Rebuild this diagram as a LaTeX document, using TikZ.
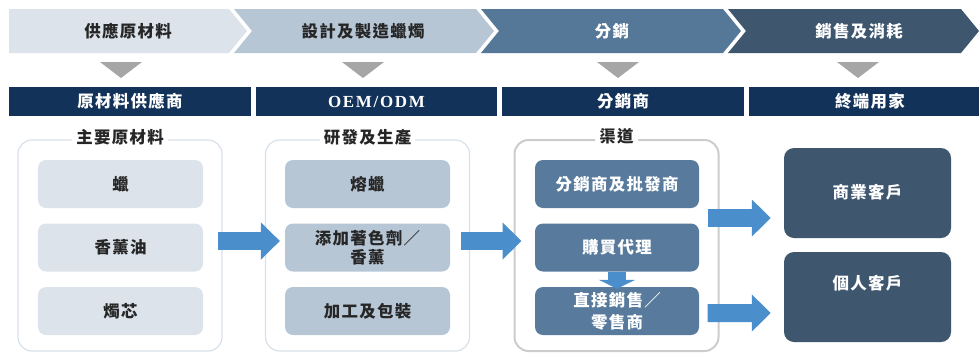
\documentclass[tikz,border=0pt]{standalone}
\usepackage{fontspec}
\usetikzlibrary{arrows.meta,calc}
\newfontfamily\cjk{Noto Sans CJK TC}[LetterSpace=8]
\newfontfamily\latserif{Liberation Serif}[LetterSpace=10]
\definecolor{chA}{HTML}{DCE3EB}
\definecolor{chB}{HTML}{B7C6D5}
\definecolor{chC}{HTML}{557899}
\definecolor{chD}{HTML}{3F566F}
\definecolor{navy}{HTML}{133259}
\definecolor{trigray}{HTML}{A6A6A6}
\definecolor{arrblue}{HTML}{4A8ECC}
\definecolor{outA}{HTML}{D8E0E9}
\definecolor{outC}{HTML}{CCCCCC}
\definecolor{boxC}{HTML}{587B9D}
\definecolor{darktext}{HTML}{262626}
\tikzset{
  lbl/.style={font=\cjk\bfseries\fontsize{16.5}{19}\selectfont, align=center, inner sep=0pt},
  dtext/.style={lbl, text=darktext},
  wtext/.style={lbl, text=white},
  navybar/.style={wtext, fill=navy, minimum width=242bp, minimum height=29bp},
  groupbox/.style={draw=outA, line width=1.2bp, rounded corners=14bp, minimum width=204bp, minimum height=211bp, inner sep=0pt},
  grouptitle/.style={dtext, fill=white, inner xsep=4bp, inner ysep=2bp},
  ibox/.style={rounded corners=8bp, minimum width=165bp, minimum height=48bp},
  ibA/.style={ibox, dtext, fill=chA},
  ibB/.style={ibox, dtext, fill=chB},
  ibC/.style={ibox, wtext, fill=boxC},
  rbox/.style={rounded corners=10bp, fill=chD, minimum width=167bp, minimum height=90bp, inner sep=0pt},
  bigarrow/.style={draw=arrblue, line width=18bp, -{Triangle[length=19bp,width=36bp]}},
  smallarrow/.style={draw=arrblue, line width=18bp, -{Triangle[length=9bp,width=36bp]}},
}
\begin{document}
\begin{tikzpicture}[x=1bp,y=-1bp]
\useasboundingbox (0,0) rectangle (979,352);
% chevrons
\fill[chA] (9,9) -- (229,9) -- (247,31) -- (229,53) -- (9,53) -- cycle;
\fill[chB] (234,9) -- (476,9) -- (494,31) -- (476,53) -- (234,53) -- (252,31) -- cycle;
\fill[chC] (481,9) -- (723,9) -- (741,31) -- (723,53) -- (481,53) -- (499,31) -- cycle;
\fill[chD] (728,9) -- (961,9) -- (979,31) -- (961,53) -- (728,53) -- (746,31) -- cycle;
\node[dtext] (s1) at (128,31) {供應原材料};
\node[dtext] (s2) at (363,31) {設計及製造蠟燭};
\node[wtext] (s3) at (612,31) {分銷};
\node[wtext] (s4) at (859,31) {銷售及消耗};
% gray triangles
\fill[trigray] (100,62) -- (142,62) -- (121,78) -- cycle;
\fill[trigray] (342,62) -- (384,62) -- (363,78) -- cycle;
\fill[trigray] (597,62) -- (639,62) -- (618,78) -- cycle;
\fill[trigray] (837,62) -- (879,62) -- (858,78) -- cycle;
% navy bars
\node[navybar] (b1) at (130,101.5) {原材料供應商};
\node[navybar, font=\latserif\bfseries\fontsize{17}{19}\selectfont, minimum width=241bp] (b2) at (376.5,101.5) {OEM/ODM};
\node[navybar] (b3) at (623,101.5) {分銷商};
\node[navybar] (b4) at (870,101.5) {終端用家};
% groups
\node[groupbox] (g1) at (120,245.5) {};
\node[groupbox] (g2) at (367.5,245.5) {};
\node[groupbox, draw=outC, line width=2bp] (g3) at (616.5,245.5) {};
\node[grouptitle] (t1) at (120,137) {主要原材料};
\node[grouptitle] (t2) at (367.5,137) {研發及生產};
\node[grouptitle] (t3) at (616.5,136) {渠道};
% inner boxes
\node[ibA] (a1) at (120.5,184) {蠟};
\node[ibA] (a2) at (120.5,247.5) {香薰油};
\node[ibA] (a3) at (120.5,311) {燭芯};
\node[ibB] (p1) at (367.5,184) {熔蠟};
\node[ibB] (p2) at (367.5,247.5) {添加著色劑／\\香薰};
\node[ibB] (p3) at (367.5,311) {加工及包裝};
\node[ibC, minimum width=164bp] (h1) at (617,184) {分銷商及批發商};
\node[ibC, minimum width=164bp] (h2) at (617,247.5) {購買代理};
\node[ibC, minimum width=164bp, font=\cjk\bfseries\fontsize{16.5}{22}\selectfont] (h3) at (617,311) {直接銷售／\\零售商};
% right boxes
\node[rbox] (c1) at (867.5,193) {};
\node[wtext] (c1t) at (867.5,192) {商業客戶};
\node[rbox] (c2) at (867.5,297) {};
\node[wtext] (c2t) at (867.5,283) {個人客戶};
% arrows
\draw[bigarrow] ($(g1.east)+(-5,-4.5)$) -- ($(g2.west)+(15,-4.5)$);
\draw[bigarrow] ($(g2.east)+(-9,-4.5)$) -- ($(g3.west)+(8,-4.5)$);
\draw[bigarrow] ($(g3.east)+(-12,-27.5)$) -- ($(c1.west)+(-13,25)$);
\draw[bigarrow] ($(g3.east)+(-12,67.5)$) -- ($(c2.west)+(-13,16)$);
\draw[smallarrow] (h2.south) -- ($(h3.north)+(0,2)$);
\end{tikzpicture}
\end{document}
